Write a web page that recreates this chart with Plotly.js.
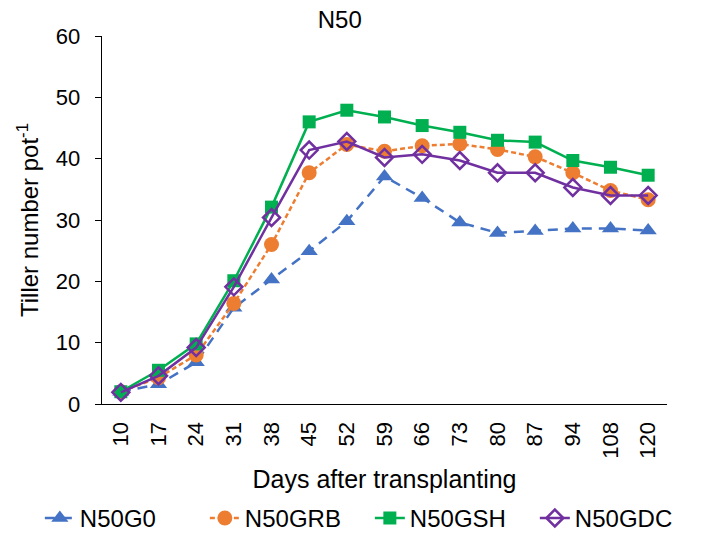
<!DOCTYPE html>
<html>
<head>
<meta charset="utf-8">
<script src="https://cdn.plot.ly/plotly-3.0.1.min.js"></script>
<style>html,body{margin:0;padding:0;background:#fff;}#chart{width:726px;height:553px;}</style>
</head>
<body>
<div id="chart"></div>
<script>
const days = ['10','17','24','31','38','45','52','59','66','73','80','87','94','108','120'];
const n50g0  = [2.0,3.2,6.8,15.7,20.3,24.9,29.8,37.1,33.6,29.6,27.9,28.2,28.6,28.6,28.3];
const n50grb = [2.0,4.3,8.0,16.4,26.0,37.7,42.3,41.2,42.1,42.4,41.5,40.3,37.7,34.8,33.3];
const n50gsh = [2.0,5.5,9.8,20.1,32.1,46.0,47.9,46.8,45.4,44.3,43.0,42.7,39.7,38.6,37.3];
const n50gdc = [1.9,4.6,9.2,19.1,30.4,41.4,42.8,40.2,40.7,39.7,37.7,37.7,35.3,34.0,34.0];
const seriesNames = ['N50G0','N50GRB','N50GSH','N50GDC'];

const font = 'Liberation Sans, Arial, sans-serif';
const traces = [
  {x: days, y: n50g0, name: seriesNames[0], type: 'scatter', mode: 'lines+markers',
   line: {color: '#4472C4', width: 2.5, dash: '10px,7px'},
   marker: {symbol: 'triangle-up', size: 15, color: '#4472C4'}},
  {x: days, y: n50grb, name: seriesNames[1], type: 'scatter', mode: 'lines+markers',
   line: {color: '#ED7D31', width: 2.5, dash: '5px,3px'},
   marker: {symbol: 'circle', size: 15, color: '#ED7D31'}},
  {x: days, y: n50gsh, name: seriesNames[2], type: 'scatter', mode: 'lines+markers',
   line: {color: '#00B050', width: 2.5},
   marker: {symbol: 'square', size: 13, color: '#00B050'}},
  {x: days, y: n50gdc, name: seriesNames[3], type: 'scatter', mode: 'lines+markers',
   line: {color: '#7030A0', width: 2.5},
   marker: {symbol: 'diamond-open', size: 13, color: '#7030A0', line: {width: 2.5, color: '#7030A0'}}}
];

const layout = {
  width: 726, height: 553,
  margin: {l: 102, r: 59, t: 36, b: 149},
  paper_bgcolor: '#fff', plot_bgcolor: '#fff',
  font: {family: font, color: '#000', size: 22},
  title: {text: 'N50', font: {size: 24, family: font, color: '#000'},
          xref: 'container', x: 0.468, xanchor: 'center', yref: 'container', y: 0.964, yanchor: 'middle'},
  xaxis: {type: 'category', range: [-0.5, 14.5], showgrid: false, zeroline: false,
          showline: true, linecolor: '#000', linewidth: 1.3, ticks: '', tickangle: -90,
          ticklabelstandoff: 8,
          tickfont: {size: 22, family: font, color: '#000'},
          title: {text: 'Days after transplanting', font: {size: 25, family: font, color: '#000'}, standoff: 12}},
  yaxis: {range: [0, 60], dtick: 10, showgrid: false, zeroline: false,
          showline: true, linecolor: '#000', linewidth: 1.3, ticks: 'outside', ticklen: 6, tickcolor: '#000',
          ticklabelstandoff: 10,
          tickfont: {size: 22, family: font, color: '#000'},
          title: {text: 'Tiller number pot<sup>-1</sup>', font: {size: 24, family: font, color: '#000'}, standoff: 10}},
  legend: {orientation: 'h', xref: 'paper', x: -0.11, xanchor: 'left', yref: 'paper', y: -0.372, yanchor: 'bottom',
           font: {size: 24, family: font, color: '#000'}, entrywidth: 120, entrywidthmode: 'pixels', traceorder: 'normal'},
  showlegend: true
};
Plotly.newPlot('chart', traces, layout, {displayModeBar: false, staticPlot: true});
</script>
</body>
</html>
